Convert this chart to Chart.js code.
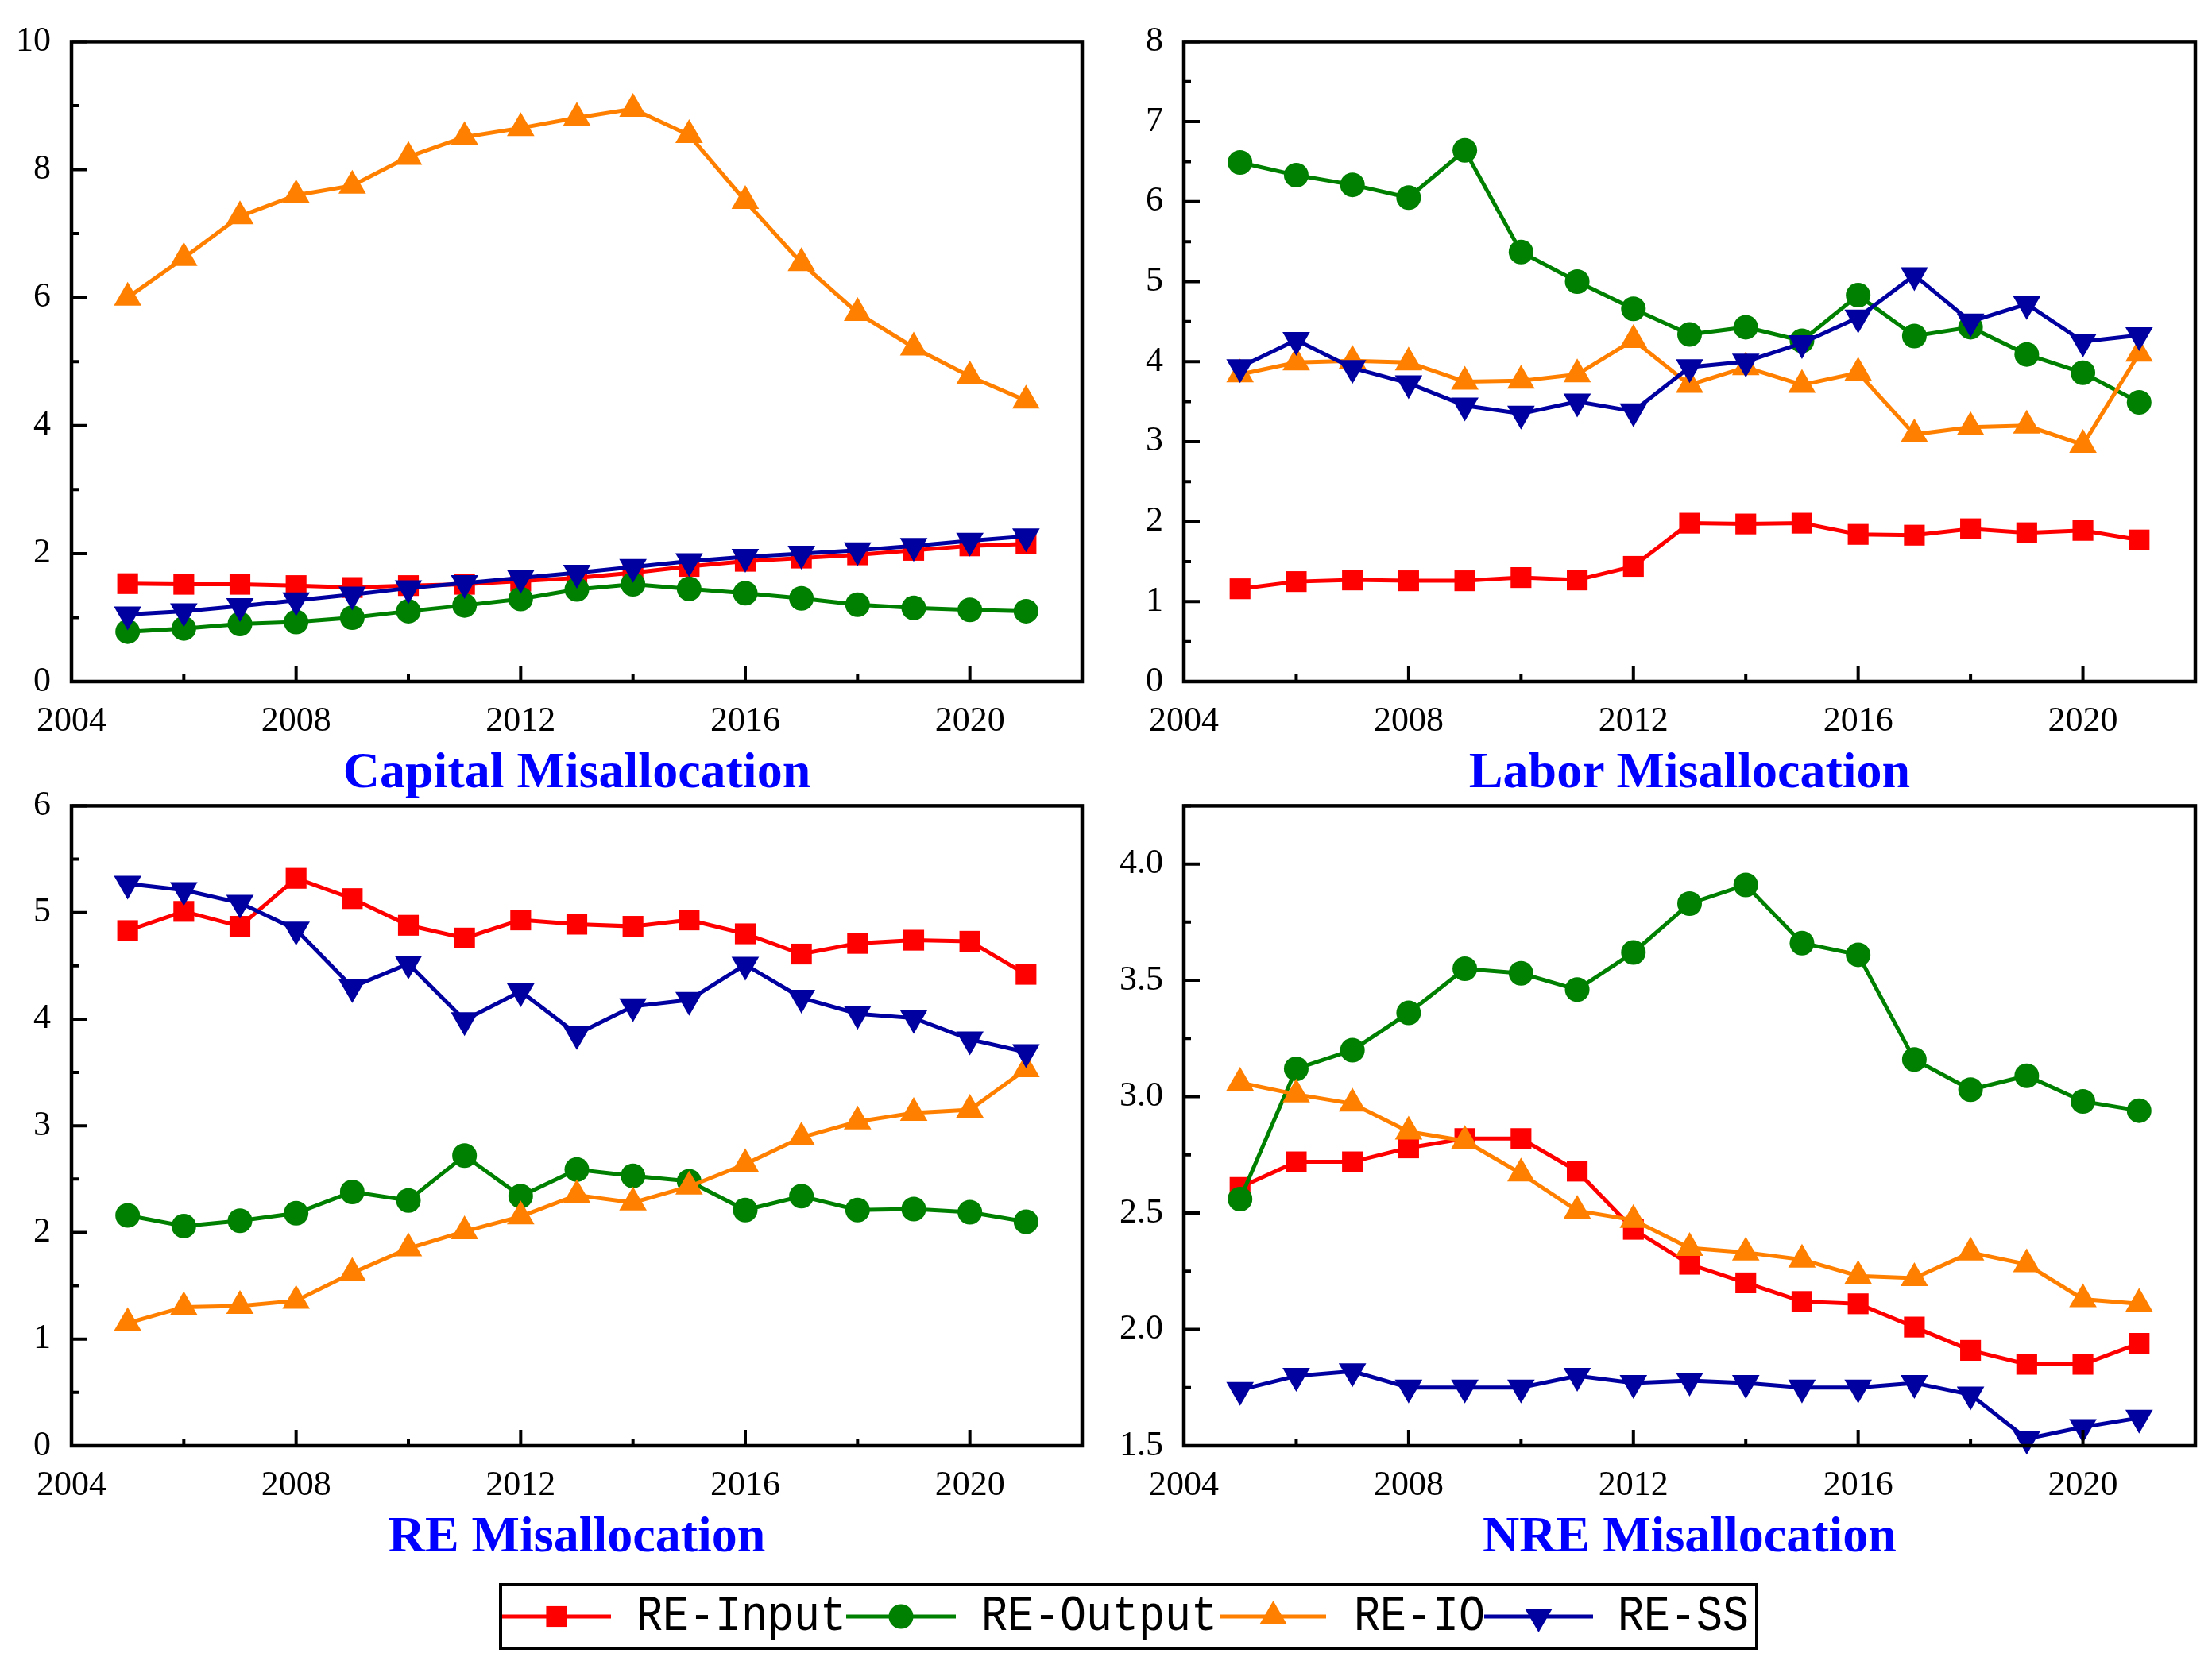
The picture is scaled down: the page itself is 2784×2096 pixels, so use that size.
<!DOCTYPE html>
<html><head><meta charset="utf-8">
<script src="https://cdn.jsdelivr.net/npm/chart.js@4.4.0/dist/chart.umd.min.js"></script>
<style>
html,body{margin:0;padding:0;background:#fff;}
#wrap{position:relative;width:2784px;height:2096px;overflow:hidden;background:#fff;}
canvas{position:absolute;}
.title{position:absolute;font-family:"Liberation Serif","Times New Roman",serif;font-weight:bold;font-size:64px;color:#0000ff;white-space:nowrap;transform:translate(-50%,-50%);line-height:1;}
#legend{position:absolute;left:628px;top:1993px;width:1585px;height:84px;border:4px solid #000;box-sizing:border-box;background:#fff;}
.lt{position:absolute;font-family:"Liberation Mono","DejaVu Sans Mono",monospace;font-size:55px;top:50%;transform:translateY(-50%) scaleY(1.15);white-space:nowrap;color:#000;line-height:1;}
</style></head>
<body><div id="wrap"><div id="legend"></div></div>
<script>
// ---------- data ----------
const years = [2005,2006,2007,2008,2009,2010,2011,2012,2013,2014,2015,2016,2017,2018,2019,2020,2021];
const seriesNames = ['RE-Input','RE-Output','RE-IO','RE-SS'];

// Capital Misallocation
const capInput  = [1.53,1.52,1.52,1.50,1.47,1.50,1.52,1.57,1.62,1.70,1.80,1.88,1.93,1.98,2.05,2.12,2.15];
const capOutput = [0.78,0.83,0.90,0.93,1.00,1.10,1.19,1.29,1.44,1.52,1.45,1.38,1.30,1.20,1.15,1.12,1.10];
const capIO     = [6.00,6.62,7.27,7.60,7.75,8.20,8.51,8.65,8.81,8.95,8.54,7.51,6.54,5.76,5.22,4.77,4.39];
const capSS     = [1.05,1.10,1.18,1.27,1.36,1.46,1.54,1.62,1.70,1.79,1.88,1.95,2.00,2.05,2.12,2.20,2.27];

// Labor Misallocation
const labInput  = [1.16,1.25,1.27,1.26,1.26,1.30,1.27,1.44,1.98,1.97,1.98,1.84,1.83,1.91,1.86,1.89,1.77];
const labOutput = [6.49,6.33,6.21,6.05,6.64,5.37,5.00,4.66,4.34,4.43,4.26,4.83,4.32,4.43,4.09,3.86,3.49];
const labIO     = [3.84,3.99,4.01,3.99,3.75,3.76,3.84,4.27,3.71,3.93,3.71,3.86,3.09,3.18,3.20,2.96,4.10];
const labSS     = [3.93,4.27,3.92,3.73,3.45,3.35,3.50,3.38,3.93,4.00,4.23,4.55,5.08,4.50,4.72,4.25,4.33];

// RE Misallocation
const reInput  = [4.83,5.01,4.87,5.32,5.13,4.88,4.76,4.93,4.89,4.87,4.93,4.80,4.61,4.71,4.74,4.73,4.42];
const reOutput = [2.16,2.06,2.11,2.18,2.38,2.30,2.72,2.34,2.59,2.53,2.48,2.21,2.34,2.21,2.22,2.19,2.10];
const reIO     = [1.15,1.30,1.31,1.36,1.62,1.85,2.01,2.15,2.35,2.28,2.43,2.64,2.89,3.04,3.12,3.15,3.53];
const reSS     = [5.27,5.21,5.09,4.84,4.30,4.52,3.99,4.26,3.86,4.12,4.18,4.51,4.20,4.05,4.01,3.81,3.69];

// NRE Misallocation
const nreInput  = [2.61,2.72,2.72,2.78,2.82,2.82,2.68,2.43,2.28,2.20,2.12,2.11,2.01,1.91,1.85,1.85,1.94];
const nreOutput = [2.56,3.12,3.20,3.36,3.55,3.53,3.46,3.62,3.83,3.91,3.66,3.61,3.16,3.03,3.09,2.98,2.94];
const nreIO     = [3.06,3.01,2.97,2.85,2.81,2.67,2.51,2.47,2.35,2.33,2.30,2.23,2.22,2.33,2.28,2.13,2.11];
const nreSS     = [1.74,1.80,1.82,1.75,1.75,1.75,1.80,1.77,1.78,1.77,1.75,1.75,1.77,1.72,1.53,1.58,1.62];

const panelTitles = ['Capital Misallocation','Labor Misallocation','RE Misallocation','NRE Misallocation'];

// ---------- styles ----------
const colors = ['#ff0000','#008000','#ff8000','#0000a0'];
const pStyles = ['rect','circle','triangle','triangle'];
const pRot = [0,0,0,180];
const pRad = [18.5,15.5,20,20];
const drawOrder = [3,2,1,0];

const frameTicks = {
  id:'frameTicks',
  afterDraw(chart){
    const {ctx, chartArea:a, scales} = chart;
    ctx.save();
    ctx.strokeStyle='#000';
    ctx.lineWidth=4;
    ctx.beginPath();
    scales.x.ticks.forEach(t=>{const px=scales.x.getPixelForValue(t.value);const L=t.label!==''?20:9;ctx.moveTo(px,a.bottom);ctx.lineTo(px,a.bottom-L);});
    scales.y.ticks.forEach(t=>{const py=scales.y.getPixelForValue(t.value);const L=t.label!==''?20:9;ctx.moveTo(a.left,py);ctx.lineTo(a.left+L,py);});
    ctx.stroke();
    ctx.lineWidth=4.5;
    ctx.strokeRect(a.left,a.top,a.right-a.left,a.bottom-a.top);
    ctx.restore();
  }
};

const wrap = document.getElementById('wrap');
function isMult(v,s){const q=v/s;return Math.abs(q-Math.round(q))<1e-6;}

function config(vals, yMin, yMax, yStep, yLabStep, yDec){
  const padL=120, padR=30, padB=80;
  const datasets = vals.map((arr,k)=>({
    label:seriesNames[k],
    data:years.map((yr,i)=>({x:yr,y:arr[i]})),
    borderColor:colors[k], backgroundColor:colors[k],
    pointBackgroundColor:colors[k], pointBorderColor:colors[k],
    borderWidth:5, pointStyle:pStyles[k], pointRotation:pRot[k],
    pointRadius:pRad[k], pointBorderWidth:0, tension:0, order:drawOrder[k], clip:false
  }));
  return {
    type:'line',
    data:{datasets},
    options:{
      responsive:false, maintainAspectRatio:false, animation:false, devicePixelRatio:1,
      layout:{padding:{left:0,top:10,right:padR,bottom:0}},
      plugins:{legend:{display:false},tooltip:{enabled:false}},
      scales:{
        x:{type:'linear',min:2004,max:2022,
           afterFit:s=>{s.height=padB;},
           grid:{display:false},border:{display:false},
           ticks:{stepSize:2,autoSkip:false,maxRotation:0,padding:16,color:'#000',
             font:{family:'Liberation Serif',size:44},
             callback:v=>{const r=Math.round(v);return (r-2004)%4===0?String(r):'';}}},
        y:{type:'linear',min:yMin,max:yMax,
           afterFit:s=>{s.width=padL;},
           grid:{display:false},border:{display:false},
           ticks:{stepSize:yStep,autoSkip:false,padding:18,color:'#000',
             font:{family:'Liberation Serif',size:44},
             callback:v=>isMult(v,yLabStep)?Number(v).toFixed(yDec):''}}
      }
    },
    plugins:[frameTicks]
  };
}

function makePanel(rect, vals, yMin, yMax, yStep, yLabStep, yDec, title){
  const pw=rect.R-rect.L, ph=rect.B-rect.T;
  // first pass: measure margins around plot area
  const w0=pw+200, h0=ph+200;
  const probe=document.createElement('canvas');
  probe.width=w0; probe.height=h0; probe.style.width=w0+'px'; probe.style.height=h0+'px';
  probe.style.left='0px'; probe.style.top='0px';
  wrap.appendChild(probe);
  const c0=new Chart(probe,config(vals,yMin,yMax,yStep,yLabStep,yDec));
  const a0=c0.chartArea;
  const mL=a0.left, mT=a0.top, mR=w0-a0.right, mB=h0-a0.bottom;
  c0.destroy(); wrap.removeChild(probe);
  // final chart
  const w=Math.round(pw+mL+mR), h=Math.round(ph+mT+mB);
  const cv=document.createElement('canvas');
  cv.width=w; cv.height=h; cv.style.width=w+'px'; cv.style.height=h+'px';
  cv.style.left=Math.round(rect.L-mL)+'px'; cv.style.top=Math.round(rect.T-mT)+'px';
  wrap.appendChild(cv);
  new Chart(cv,config(vals,yMin,yMax,yStep,yLabStep,yDec));
  const t=document.createElement('div');
  t.className='title'; t.textContent=title;
  t.style.left=((rect.L+rect.R)/2)+'px';
  t.style.top=(rect.B+112)+'px';
  wrap.appendChild(t);
}

makePanel({L:90,T:52,R:1362,B:858},[capInput,capOutput,capIO,capSS],0,10,1,2,0,panelTitles[0]);
makePanel({L:1490,T:52,R:2763,B:858},[labInput,labOutput,labIO,labSS],0,8,0.5,1,0,panelTitles[1]);
makePanel({L:90,T:1014,R:1362,B:1820},[reInput,reOutput,reIO,reSS],0,6,0.5,1,0,panelTitles[2]);
makePanel({L:1490,T:1014,R:2763,B:1820},[nreInput,nreOutput,nreIO,nreSS],1.5,4.25,0.25,0.5,1,panelTitles[3]);

// ---------- legend ----------
const lg=document.getElementById('legend');
const lineX=[[4,141],[437,575],[908,1041],[1240,1377]];
const textX=[173,607,1076,1408];
const NS='http://www.w3.org/2000/svg';
const svg=document.createElementNS(NS,'svg');
svg.setAttribute('width','1585');svg.setAttribute('height','84');
svg.style.position='absolute';svg.style.left='-4px';svg.style.top='-4px';
lg.appendChild(svg);
seriesNames.forEach((nm,k)=>{
  const cy=42;
  const [x1,x2]=lineX[k]; const cx=(x1+x2)/2;
  const ln=document.createElementNS(NS,'line');
  ln.setAttribute('x1',x1);ln.setAttribute('x2',x2);ln.setAttribute('y1',cy);ln.setAttribute('y2',cy);
  ln.setAttribute('stroke',colors[k]);ln.setAttribute('stroke-width','5');
  svg.appendChild(ln);
  let m;
  const r=pRad[k];
  if(k===0){m=document.createElementNS(NS,'rect');const s=r*Math.SQRT1_2;m.setAttribute('x',cx-s);m.setAttribute('y',cy-s);m.setAttribute('width',2*s);m.setAttribute('height',2*s);}
  else if(k===1){m=document.createElementNS(NS,'circle');m.setAttribute('cx',cx);m.setAttribute('cy',cy);m.setAttribute('r',r);}
  else{m=document.createElementNS(NS,'polygon');const d=k===2?1:-1;
    const pts=[[cx,cy-d*r],[cx+r*0.866,cy+d*r*0.5],[cx-r*0.866,cy+d*r*0.5]];
    m.setAttribute('points',pts.map(p=>p.join(',')).join(' '));}
  m.setAttribute('fill',colors[k]);
  svg.appendChild(m);
  const t=document.createElement('div');
  t.className='lt';t.textContent=nm;t.style.left=(textX[k]-4)+'px';
  lg.appendChild(t);
});
</script>
</body></html>
